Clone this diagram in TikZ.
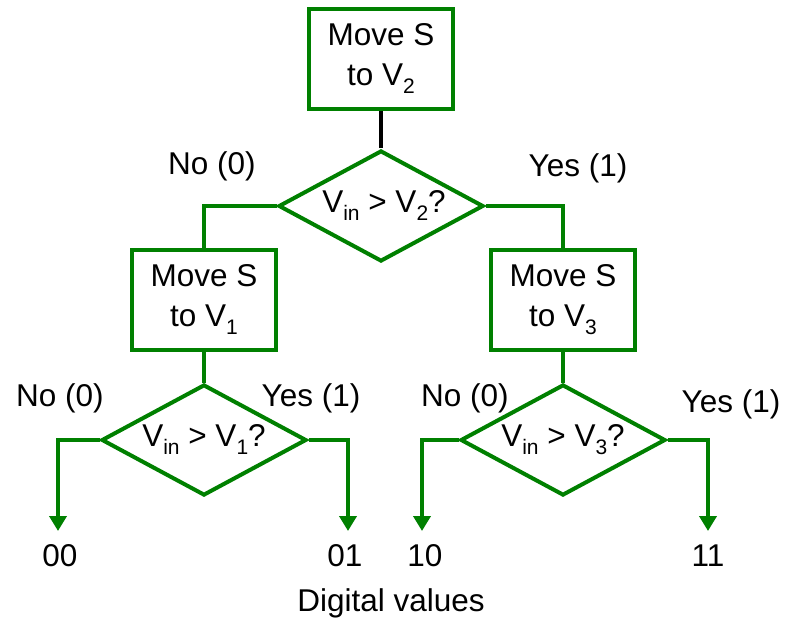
\documentclass[tikz,border=0pt]{standalone}
\usepackage{fontspec}
\setmainfont{Liberation Sans}
\usetikzlibrary{shapes.geometric,arrows.meta}
\definecolor{flow}{RGB}{0,128,0}
\newcommand\lowsub[1]{\raisebox{-8pt}{\fontsize{21}{21}\selectfont #1}}
\begin{document}
\begin{tikzpicture}[x=1pt,y=-1pt,
  font=\fontsize{31.5}{40}\selectfont,
  stepbox/.style={draw=flow,line width=4pt,minimum width=144pt,minimum height=100pt,align=center,inner sep=0pt},
  testbox/.style={draw=flow,line width=4pt,shape=diamond,aspect=1.85,minimum width=205pt,minimum height=111pt,inner sep=0pt},
  link/.style={draw=flow,line width=4pt},
  outarrow/.style={link,-{Triangle[length=15pt,width=17pt]}},
  tag/.style={inner sep=0pt}]
\useasboundingbox (0,0) rectangle (785,623);

% process boxes
\node[stepbox] (b2) at (381,59) {Move S\\to V\lowsub{2}};
\node[stepbox] (b1) at (204,300) {Move S\\to V\lowsub{1}};
\node[stepbox] (b3) at (563,300) {Move S\\to V\lowsub{3}};

% decisions
\node[testbox] (d2) at (381,206) {\hspace*{6pt}V\lowsub{in} > V\lowsub{2}?};
\node[testbox] (d1) at (204,440) {V\lowsub{in} > V\lowsub{1}?};
\node[testbox] (d3) at (563,440) {V\lowsub{in} > V\lowsub{3}?};

% arrow ends
\coordinate (e00) at (58,531);
\coordinate (e01) at (348,531);
\coordinate (e10) at (422,531);
\coordinate (e11) at (708,531);

% connectors
\draw[line width=4pt,black] (b2.south) -- (d2.north);
\draw[link] (d2.west) -| (b1.north);
\draw[link] (d2.east) -| (b3.north);
\draw[link] (b1.south) -- (d1.north);
\draw[link] (b3.south) -- (d3.north);
\draw[outarrow] (d1.west) -| (e00);
\draw[outarrow] (d1.east) -| (e01);
\draw[outarrow] (d3.west) -| (e10);
\draw[outarrow] (d3.east) -| (e11);

% branch labels
\node[tag] (n2) at (212,166) {No (0)};
\node[tag] (y2) at (578,168) {Yes (1)};
\node[tag] (n1) at (60,398) {No (0)};
\node[tag] (y1) at (311,398) {Yes (1)};
\node[tag] (n3) at (465,398) {No (0)};
\node[tag] (y3) at (731,404) {Yes (1)};

% output codes
\node[tag] (v00) at (60,556) {00};
\node[tag] (v01) at (345,556) {01};
\node[tag] (v10) at (425,556) {10};
\node[tag] (v11) at (708,556) {11};
\node[tag] (cap) at (391,603) {Digital values};
\end{tikzpicture}
\end{document}
